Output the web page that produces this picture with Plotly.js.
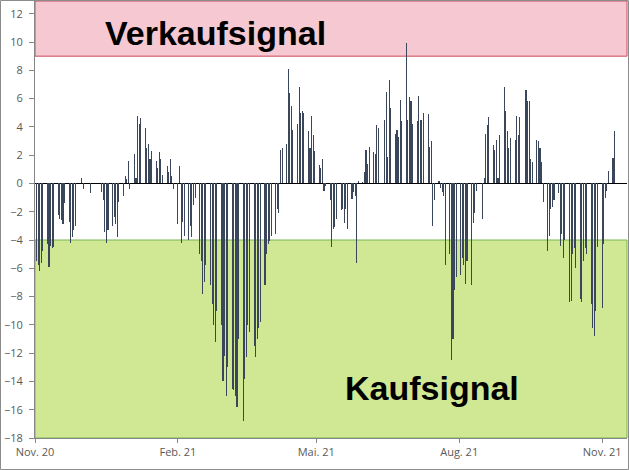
<!DOCTYPE html>
<html>
<head>
<meta charset="utf-8">
<script src="https://cdn.plot.ly/plotly-3.0.1.min.js"></script>
<style>
  html, body { margin: 0; padding: 0; background: #fff; }
  #chart { width: 629px; height: 470px; }
</style>
</head>
<body>
<div id="chart"></div>
<script>
// Weekly values (Mon..Fri), first week starting Monday 2020-11-02
const weekStart = "2020-11-02";
const weeklyValues = [
  [-5.5, -5.8, -6.2, -5.6, -4.8],
  [-4.3, -5.9, -4.4, -4.6, -4.5],
  [-2.2, -2.5, -2.6, -2.9, -1.4],
  [-2.7, -4.2, -3.8, -3.3, -3.0],
  [0.05, 0.4, -0.4, 0.0, 0.0],
  [-0.7, 0.0, 0.05, 0.0, 0.0],
  [-0.6, -1.2, -3.4, -4.2, -3.3],
  [-3.0, -2.4, -2.9, -3.8, -1.3],
  [-0.9, 0.5, 0.3, 1.6, -0.4],
  [2.1, 0.4, 4.8, 4.2, 4.6],
  [3.9, 2.5, 2.8, 1.7, 2.3],
  [1.6, 1.1, 2.2, 1.7, 0.6],
  [1.2, 0.8, 1.7, 0.5, -0.4],
  [-2.9, 1.2, -4.2, -2.7, -3.7],
  [-4.0, -3.0, -3.8, -1.5, -1.0],
  [-5.0, -5.5, -7.8, -7.0, -5.8],
  [-7.2, -8.5, -10.0, -11.2, -9.0],
  [-10.0, -14.0, -12.2, -15.0, -13.0],
  [-14.5, -14.6, -15.0, -15.8, -11.0],
  [-16.8, -13.8, -12.3, -10.0, -10.5],
  [-11.5, -12.3, -11.0, -10.2, -9.8],
  [-7.2, -5.0, -4.3, -4.1, -3.7],
  [-3.6, -1.8, -2.1, 2.4, 2.5],
  [2.8, 8.1, 6.4, 5.5, 3.8],
  [4.2, 6.8, 5.0, 5.1, 5.0],
  [3.7, 2.5, 4.8, 3.4, 2.3],
  [1.3, 1.1, 1.7, -0.5, -0.2],
  [-1.2, -4.5, -3.2, -3.1, -2.5],
  [-1.9, -1.8, -2.8, -1.8, -3.2],
  [-1.1, -0.6, -0.9, -5.6, 0.2],
  [0.1, 0.8, 2.4, 1.4, 2.6],
  [2.2, 2.1, 4.1, 3.9, 0.0],
  [4.5, 6.5, 1.9, 7.3, 5.3],
  [3.5, 3.8, 3.3, 5.9, 4.4],
  [9.9, 4.5, 6.1, 5.8, 4.2],
  [4.4, 6.2, 4.5, 4.5, 5.0],
  [4.9, 2.6, 3.0, -3.0, -1.2],
  [0.2, -0.3, -0.6, -0.9, -5.8],
  [-5.0, -12.5, -11.0, -7.5, -6.6],
  [-6.5, -5.3, -5.8, -7.1, -5.5],
  [-7.2, -2.8, -2.1, -0.5, null],
  [-2.5, 0.4, 3.5, 4.1, 4.7],
  [2.7, 2.4, 3.1, 0.4, 3.4],
  [6.8, 5.1, 3.7, 2.5, 3.2],
  [3.1, 4.8, 3.4, 4.7, 0.0],
  [6.6, 5.8, 5.8, 1.7, 1.5],
  [3.1, 3.0, 2.5, 1.5, -1.3],
  [-4.8, -3.7, -1.8, -1.7, -1.2],
  [-0.7, -4.4, -3.6, -5.3, -4.0],
  [-8.4, -8.3, -5.0, -4.6, -6.0],
  [-8.2, -8.4, -5.5, -4.6, -5.0],
  [-8.5, -10.2, -10.8, -9.0, -4.5],
  [-8.8, -4.3, -1.0, -0.5, 0.9],
  [1.8, 3.7, null, null, null]
];
const tickDates = ["2020-11-01", "2021-02-01", "2021-05-01", "2021-08-01", "2021-11-01"];
const tickLabels = ["Nov. 20", "Feb. 21", "Mai. 21", "Aug. 21", "Nov. 21"];
const sellLevel = 9;
const buyLevel = -4;
const sellText = "Verkaufsignal";
const buyText = "Kaufsignal";

// build dates (weekdays) from the weekly table
const dates = [], values = [];
const [sy, sm, sd] = weekStart.split("-").map(Number);
weeklyValues.forEach((wk, w) => {
  wk.forEach((v, d) => {
    if (v === null) return;
    const dt = new Date(Date.UTC(sy, sm - 1, sd + 7 * w + d));
    dates.push(dt.toISOString().slice(0, 10));
    values.push(v);
  });
});

const yMin = -18, yMax = 12.9;
const L = 35, R = 2, T = 1, B = 32, W = 629, H = 470;
const pw = W - L - R, ph = H - T - B;
const px = p => (p - L) / pw;
const py = p => (H - B - p) / ph;

const trace = {
  type: "bar",
  x: dates,
  y: values,
  width: 0.7 * 86400000,
  marker: { color: "#3A475B", line: { width: 0 } },
  hoverinfo: "x+y"
};

const layout = {
  width: W, height: H,
  margin: { l: L, r: R, t: T, b: B, pad: 0 },
  paper_bgcolor: "#ffffff",
  plot_bgcolor: "#ffffff",
  showlegend: false,
  bargap: 0,
  xaxis: {
    type: "date",
    range: ["2020-11-01", "2021-11-17"],
    tickvals: tickDates,
    ticktext: tickLabels,
    ticks: "outside", ticklen: 4, tickcolor: "#868686",
    showgrid: false, zeroline: false,
    showline: true, linecolor: "#868686",
    tickfont: { family: "Open Sans, Noto Sans, sans-serif", size: 11, color: "#595959" }
  },
  yaxis: {
    range: [yMin, yMax],
    tickmode: "linear", tick0: 0, dtick: 2,
    ticks: "outside", ticklen: 5, tickcolor: "#868686",
    ticklabelstandoff: 4,
    showgrid: false,
    zeroline: true, zerolinecolor: "#000000", zerolinewidth: 1,
    showline: true, linecolor: "#868686",
    tickfont: { family: "Open Sans, Noto Sans, sans-serif", size: 11, color: "#595959" }
  },
  shapes: [
    { type: "rect", layer: "below", xref: "paper", yref: "y", x0: 0, x1: 1, y0: sellLevel, y1: yMax,
      fillcolor: "#F6C8D2", line: { color: "#CC4B5A", width: 1 } },
    { type: "rect", layer: "below", xref: "paper", yref: "y", x0: 0, x1: 1, y0: yMin, y1: buyLevel,
      fillcolor: "#D0E894", line: { color: "#78B450", width: 1 } },
    { type: "rect", layer: "above", xref: "paper", yref: "paper",
      x0: px(0.5), x1: px(628.5), y0: py(469.5), y1: py(0.5),
      fillcolor: "rgba(0,0,0,0)", line: { color: "#8C8C8C", width: 1 } }
  ],
  annotations: [
    { text: "<b>" + sellText + "</b>", xref: "paper", yref: "paper", x: px(215), y: py(33),
      xanchor: "center", yanchor: "middle", showarrow: false,
      font: { family: "Liberation Sans, Arial, sans-serif", size: 34, color: "#000000" } },
    { text: "<b>" + buyText + "</b>", xref: "paper", yref: "paper", x: px(432), y: py(388),
      xanchor: "center", yanchor: "middle", showarrow: false,
      font: { family: "Liberation Sans, Arial, sans-serif", size: 34, color: "#000000" } }
  ]
};

Plotly.newPlot("chart", [trace], layout, { displayModeBar: false, staticPlot: true });
</script>
</body>
</html>
